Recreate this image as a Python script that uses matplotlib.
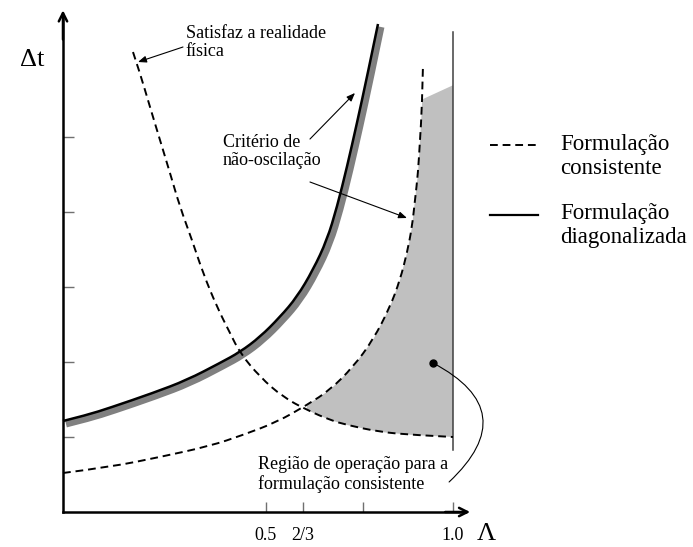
import numpy as np
import matplotlib
matplotlib.use("Agg")
import matplotlib.pyplot as plt
from matplotlib.path import Path
from matplotlib.patches import PathPatch
from matplotlib.transforms import offset_copy

plt.rcParams['font.family'] = ['Liberation Serif', 'DejaVu Serif']

# diagonalised formulation (non-oscillation limit)
diag_lam = [0.0, 0.0615, 0.1205, 0.2308, 0.318, 0.4026, 0.4538, 0.5051, 0.5564,
            0.600, 0.641, 0.677, 0.7026, 0.7282, 0.7538, 0.7795, 0.8077]
diag_dt = [1.213, 1.293, 1.39, 1.587, 1.76, 1.987, 2.133, 2.333, 2.60,
           2.867, 3.227, 3.627, 4.067, 4.60, 5.187, 5.80, 6.507]

# consistent formulation, physical-reality limit (decreasing branch)
fis_lam = [0.1795, 0.1974, 0.2231, 0.2487, 0.2744, 0.300, 0.3308, 0.359, 0.3949,
           0.4282, 0.4538, 0.5051, 0.5641, 0.6256, 0.6846, 0.7282, 0.8128, 0.8974, 1.0]
fis_dt = [6.133, 5.853, 5.40, 4.96, 4.52, 4.067, 3.627, 3.187, 2.733,
          2.387, 2.12, 1.80, 1.533, 1.36, 1.227, 1.16, 1.067, 1.027, 1.0]

# consistent formulation, non-oscillation limit (rising branch)
osc_lam = [0.0, 0.1205, 0.2487, 0.3769, 0.4615, 0.5487, 0.6256, 0.6846, 0.7436,
           0.7949, 0.8385, 0.8641, 0.8821, 0.8949, 0.9026, 0.9103, 0.9154, 0.9205, 0.9231]
osc_dt = [0.52, 0.60, 0.733, 0.88, 1.027, 1.20, 1.427, 1.627, 1.933,
          2.293, 2.733, 3.093, 3.453, 3.80, 4.16, 4.52, 4.96, 5.40, 5.96]

# upper edge of the operating region
top_lam = [0.9205, 1.0]
top_dt = [5.50, 5.69]

lam_ticks = [0.5205, 0.6154, 0.7692, 1.0]
lam_labels = ['0.5', '2/3', '', '1.0']
dt_ticks = [1, 2, 3, 4, 5]


def smooth_path(xs, ys):
    # quadratic Bezier through the midpoints, using the points as controls
    pts = np.column_stack([xs, ys])
    verts = [pts[0]]
    codes = [Path.MOVETO]
    for k in range(1, len(pts) - 1):
        mid = (pts[k] + pts[k + 1]) / 2 if k < len(pts) - 2 else pts[k + 1]
        verts += [pts[k], mid]
        codes += [Path.CURVE3, Path.CURVE3]
    return Path(verts, codes)


fig = plt.figure(figsize=(6.93, 5.47), dpi=100)
ax = fig.add_axes([0, 0, 1, 1])
ax.set_xlim(-0.1615, 1.6154)
ax.set_ylim(-0.4667, 6.8267)

# operating region of the consistent formulation
i0 = 6
reg_x = osc_lam[i0:-1] + top_lam + [1.0] + fis_lam[::-1][:-13]
reg_y = osc_dt[i0:-1] + top_dt + [1.0] + fis_dt[::-1][:-13]
ax.fill(reg_x, reg_y, color='#c0c0c0', lw=0, zorder=1)
ax.plot([1.0, 1.0], [0.83, 6.4], color='#404040', lw=1.1, zorder=2)

# diagonalised curve with grey shadow
shadow = offset_copy(ax.transData, fig=fig, x=3, y=-3, units='dots')
diag_path = smooth_path(diag_lam, diag_dt)
ax.add_patch(PathPatch(diag_path, fill=False, ec='#808080', lw=5, capstyle='butt',
                       transform=shadow, zorder=3))
ax.add_patch(PathPatch(diag_path, fill=False, ec='black', lw=1.8, capstyle='butt', zorder=4))

dash = (0, (4, 2.5))
ax.add_patch(PathPatch(smooth_path(fis_lam, fis_dt), fill=False, ec='black', lw=1.4,
                       linestyle=dash, zorder=4))
ax.add_patch(PathPatch(smooth_path(osc_lam, osc_dt), fill=False, ec='black', lw=1.4,
                       linestyle=dash, zorder=4))

# axes
for s in ['top', 'right']:
    ax.spines[s].set_visible(False)
ax.spines['left'].set_position(('data', 0))
ax.spines['bottom'].set_position(('data', 0))
ax.spines['left'].set_bounds(0, 6.6)
ax.spines['bottom'].set_bounds(0, 1.03)
for s in ['left', 'bottom']:
    ax.spines[s].set_linewidth(1.8)
    ax.spines[s].set_zorder(5)
ax.set_xticks(lam_ticks)
ax.set_xticklabels(lam_labels)
ax.set_yticks(dt_ticks)
ax.set_yticklabels([])
ax.tick_params(direction='in', length=7, width=1, color='#707070', labelsize=13, pad=11)
ax.tick_params(axis='y', length=8)

arrow_kw = dict(arrowstyle='->,head_length=0.6,head_width=0.3', lw=1.8, color='black',
                shrinkA=0, shrinkB=0)
ax.annotate('', xy=(0, 6.69), xytext=(0, 6.3), arrowprops=arrow_kw)
ax.annotate('', xy=(1.044, 0), xytext=(0.98, 0), arrowprops=arrow_kw)
ax.text(-0.08, 6.03, 'Δt', fontsize=19, ha='center', va='center')
ax.text(1.085, -0.29, 'Λ', fontsize=19, ha='center', va='center')

# annotations
pointer = dict(arrowstyle='-|>,head_length=0.5,head_width=0.2', lw=0.8, color='black',
               shrinkA=0, shrinkB=0)
ax.text(0.315, 6.5, 'Satisfaz a realidade\nfísica', fontsize=13, ha='left', va='top',
        linespacing=1.1)
ax.annotate('', xy=(0.1923, 6.0), xytext=(0.3077, 6.2), arrowprops=pointer)

ax.text(0.41, 5.04, 'Critério de\nnão-oscilação', fontsize=13, ha='left', va='top',
        linespacing=1.1)
ax.annotate('', xy=(0.7487, 5.587), xytext=(0.6333, 4.973), arrowprops=pointer)
ax.annotate('', xy=(0.882, 3.92), xytext=(0.6333, 4.4), arrowprops=pointer)

ax.text(0.50, 0.74, 'Região de operação para a\nformulação consistente', fontsize=13,
        ha='left', va='top', linespacing=1.1)
ax.plot([0.9487], [1.987], 'o', color='black', ms=5, zorder=6)
ax.annotate('', xy=(0.9487, 1.987), xytext=(0.99, 0.40),
            arrowprops=dict(arrowstyle='-', lw=0.8, color='black', shrinkA=0, shrinkB=0,
                            connectionstyle='arc3,rad=0.7'))

# legend
ax.plot([1.095, 1.218], [4.893, 4.893], color='black', lw=1.4, dashes=(4, 2.5))
ax.text(1.274, 4.74, 'Formulação\nconsistente', fontsize=16.5, ha='left', va='center',
        linespacing=1.15)
ax.plot([1.095, 1.218], [3.96, 3.96], color='black', lw=1.6)
ax.text(1.274, 3.82, 'Formulação\ndiagonalizada', fontsize=16.5, ha='left', va='center',
        linespacing=1.15)

fig.savefig('out.png', dpi=100)
